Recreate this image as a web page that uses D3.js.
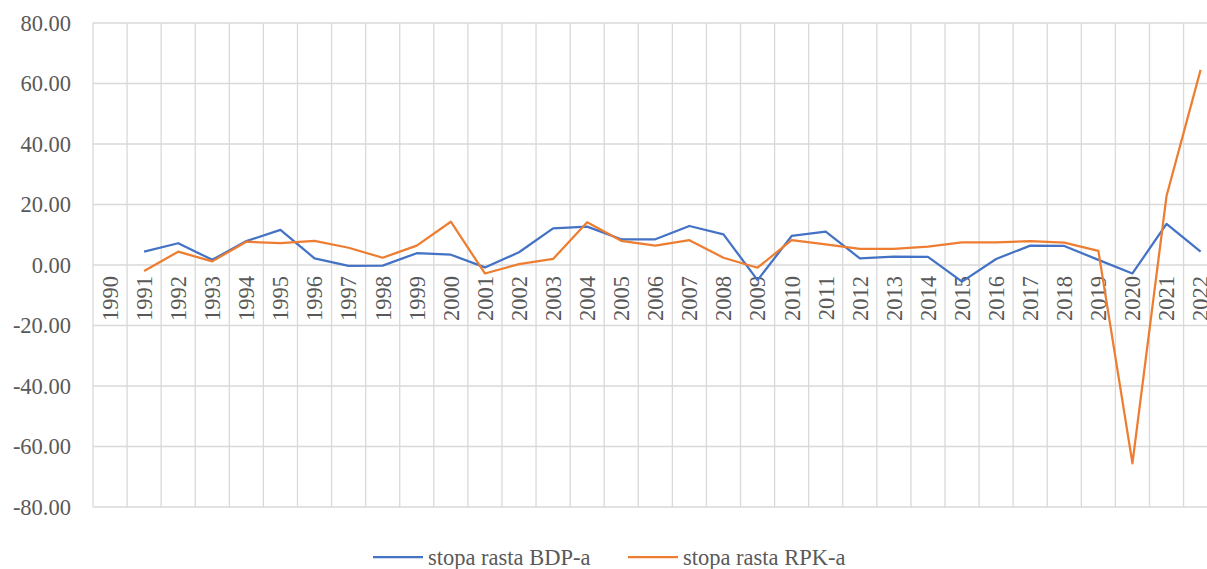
<!DOCTYPE html>
<html>
<head>
<meta charset="utf-8">
<script src="https://cdn.jsdelivr.net/npm/d3@7"></script>
<style>
    body { margin: 0; background: #fff; }
    svg { display: block; }
</style>
</head>
<body>
<div id="chart"></div>
<script>
const years = d3.range(1990, 2023).map(String);
const yTicks = [-80, -60, -40, -20, 0, 20, 40, 60, 80];

// stopa rasta BDP-a (1990 has no value)
const bdp = [null, 4.4, 7.2, 1.7, 7.9, 11.6, 2.2, -0.3, -0.2, 3.9, 3.4,
    -0.8, 4.2, 12.1, 12.7, 8.5, 8.5, 12.9, 10.1, -5.0, 9.6,
    11.0, 2.2, 2.8, 2.7, -5.5, 2.0, 6.4, 6.3, 1.7, -2.8,
    13.6, 4.4];

// stopa rasta RPK-a
const rpk = [null, -2.0, 4.4, 1.2, 7.7, 7.2, 8.0, 5.7, 2.4, 6.4, 14.3,
    -2.8, 0.3, 2.0, 14.1, 8.0, 6.4, 8.2, 2.4, -0.9, 8.2,
    6.8, 5.3, 5.3, 6.1, 7.5, 7.5, 7.9, 7.4, 4.7, -65.6,
    22.8, 64.5];

const seriesNames = ["stopa rasta BDP-a", "stopa rasta RPK-a"];
const seriesColors = ["#4472C4", "#ED7D31"];

const width = 1207, height = 569;
const plotLeft = 93, plotTop = 23, plotBottom = 507;
const band = 34.08;
const fontSize = 22.5;
const serif = "Liberation Serif, DejaVu Serif, serif";

const svg = d3.select('#chart').append('svg')
    .attr('width', width)
    .attr('height', height)
    .style('font-family', serif);

const x = d3.scaleBand()
    .domain(years)
    .range([plotLeft, plotLeft + band * years.length])
    .paddingInner(0).paddingOuter(0);

const y = d3.scaleLinear()
    .domain([-80, 80])
    .range([plotBottom, plotTop]);

const grid = svg.append('g').attr('stroke', '#d9d9d9').attr('stroke-width', 1.3);

// horizontal gridlines
grid.selectAll('line.h')
    .data(yTicks)
    .join('line')
    .attr('class', 'h')
    .attr('x1', plotLeft).attr('x2', x.range()[1])
    .attr('y1', d => y(d)).attr('y2', d => y(d));

// vertical gridlines at category boundaries
grid.selectAll('line.v')
    .data(years.concat(['end']))
    .join('line')
    .attr('class', 'v')
    .attr('x1', (d, i) => plotLeft + i * x.bandwidth())
    .attr('x2', (d, i) => plotLeft + i * x.bandwidth())
    .attr('y1', plotTop).attr('y2', plotBottom);

// y axis labels (plain hyphen for minus, like the original)
svg.append('g').selectAll('text')
    .data(yTicks)
    .join('text')
    .attr('x', 71)
    .attr('y', d => y(d))
    .attr('dy', '0.35em')
    .attr('text-anchor', 'end')
    .attr('fill', '#595959')
    .style('font-family', serif)
    .attr('font-size', fontSize)
    .text(d => d.toFixed(2));

// x labels, rotated, just under the zero line
svg.append('g').selectAll('text')
    .data(years)
    .join('text')
    .attr('transform', d => `translate(${x(d) + x.bandwidth() / 2},${y(0) + 11}) rotate(-90)`)
    .attr('text-anchor', 'end')
    .attr('dy', '0.35em')
    .attr('fill', '#595959')
    .style('font-family', serif)
    .attr('font-size', fontSize)
    .text(d => d);

const line = d3.line()
    .defined(d => d.v !== null)
    .x(d => x(d.year) + x.bandwidth() / 2)
    .y(d => y(d.v));

[bdp, rpk].forEach((values, k) => {
    svg.append('path')
        .datum(values.map((v, i) => ({ year: years[i], v })))
        .attr('fill', 'none')
        .attr('stroke', seriesColors[k])
        .attr('stroke-width', 2.25)
        .attr('stroke-linejoin', 'round')
        .attr('d', line);
});

// legend
const legendX = [373, 628];
const legend = svg.append('g');
seriesNames.forEach((name, k) => {
    legend.append('line')
        .attr('x1', legendX[k]).attr('x2', legendX[k] + 50)
        .attr('y1', 557).attr('y2', 557)
        .attr('stroke', seriesColors[k])
        .attr('stroke-width', 2.25);
    legend.append('text')
        .attr('x', legendX[k] + 55)
        .attr('y', 557)
        .attr('dy', '0.35em')
        .attr('fill', '#595959')
        .style('font-family', serif)
        .attr('font-size', fontSize)
        .text(name);
});
</script>
</body>
</html>
